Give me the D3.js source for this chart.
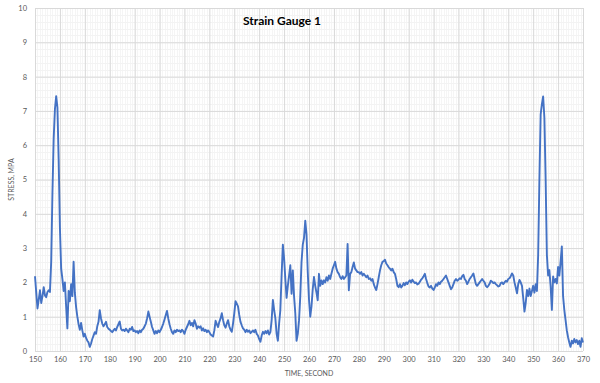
<!DOCTYPE html>
<html>
<head>
<meta charset="utf-8">
<script src="https://cdn.jsdelivr.net/npm/d3@7"></script>
<style>
  html, body { margin: 0; padding: 0; background: #fff; }
  svg { display: block; }
</style>
</head>
<body>
<svg id="chart" width="600" height="383"></svg>
<script>
// ---- Data ----
const chartTitle = "Strain Gauge 1";
const xAxisTitle = "TIME, SECOND";
const yAxisTitle = "STRESS, MPA";
const xTicks = [150,160,170,180,190,200,210,220,230,240,250,260,270,280,290,300,310,320,330,340,350,360,370];
const yTicks = [0,1,2,3,4,5,6,7,8,9,10];
const startTime = 150;   // seconds
const sampleStep = 0.5;  // seconds between readings
// stress (MPa) every 0.5 s, one row per 10 s
const stress = [
  2.18,1.7,1.24,1.5,1.77,1.4,1.6,1.86,1.62,1.57,1.72,1.77,1.72,2.6,4.6,6.2,7.05,7.43,7.1,5.6,
  3.6,2.4,2.1,1.75,2.0,1.3,0.66,1.75,1.45,1.95,1.6,2.6,1.7,1.28,1.0,0.78,0.62,0.82,0.6,0.42,
  0.5,0.38,0.3,0.25,0.12,0.22,0.35,0.45,0.55,0.5,0.72,0.85,1.19,0.95,0.8,0.72,0.78,0.85,0.7,0.65,
  0.62,0.58,0.55,0.6,0.65,0.6,0.7,0.78,0.86,0.65,0.6,0.62,0.58,0.65,0.6,0.55,0.65,0.62,0.7,0.58,
  0.6,0.55,0.58,0.52,0.6,0.55,0.62,0.65,0.72,0.8,0.95,1.15,1.0,0.85,0.7,0.6,0.5,0.58,0.52,0.6,
  0.55,0.62,0.7,0.8,0.92,1.05,1.17,0.95,0.78,0.65,0.55,0.5,0.6,0.55,0.62,0.58,0.6,0.55,0.62,0.58,
  0.5,0.62,0.7,0.78,0.88,0.75,0.82,0.72,0.9,0.8,0.65,0.72,0.68,0.72,0.6,0.66,0.58,0.62,0.55,0.6,
  0.55,0.48,0.45,0.42,0.6,0.88,0.78,0.7,0.85,0.95,1.1,0.9,0.75,0.68,0.8,0.9,0.72,0.62,0.56,0.8,
  1.1,1.45,1.38,1.3,1.05,0.85,0.75,0.66,0.62,0.55,0.62,0.56,0.6,0.52,0.56,0.6,0.55,0.62,0.5,0.45,
  0.35,0.27,0.45,0.56,0.5,0.58,0.52,0.6,0.48,0.55,0.9,1.49,1.2,0.95,0.5,0.3,0.8,1.2,2.2,3.1,
  2.7,2.1,1.55,1.9,2.2,2.5,1.67,2.35,1.6,1.1,0.3,0.5,0.9,1.6,2.6,3.1,3.3,3.8,3.4,2.3,
  1.5,1.0,1.3,1.8,2.16,1.9,1.7,1.48,2.25,1.9,2.06,1.95,2.06,2.0,2.15,2.05,2.2,2.1,2.25,2.4,
  2.5,2.6,2.4,2.3,2.25,2.15,2.1,2.18,2.1,2.15,2.2,3.12,1.77,2.25,2.3,2.45,2.58,2.4,2.35,2.3,
  2.3,2.25,2.3,2.2,2.25,2.2,2.15,2.2,2.1,2.12,2.05,2.1,1.95,1.85,1.78,1.95,2.15,2.35,2.5,2.6,
  2.62,2.66,2.55,2.5,2.44,2.4,2.35,2.4,2.3,2.25,2.1,1.9,1.86,1.95,1.85,1.9,1.98,1.92,2.0,1.95,
  2.02,2.06,2.0,2.08,2.02,1.98,2.0,1.94,1.96,2.02,2.08,2.12,2.18,2.25,2.1,1.98,1.88,1.85,1.9,1.82,
  1.78,1.85,1.95,1.9,2.0,1.95,2.02,2.05,2.1,2.15,2.2,2.1,2.0,1.9,1.8,1.85,1.95,2.05,2.1,2.05,
  2.08,2.12,2.1,2.18,2.22,2.1,2.05,1.95,2.02,2.1,2.15,2.2,2.26,2.1,1.95,1.9,1.95,2.0,2.05,2.1,
  2.05,2.0,1.9,1.86,1.9,1.96,2.05,2.02,1.98,2.0,1.95,1.92,1.88,1.9,1.98,2.0,1.95,2.0,2.05,2.02,
  2.1,2.12,2.18,2.26,2.2,2.0,1.85,1.68,1.95,2.07,2.0,1.9,1.55,1.15,1.4,1.78,1.6,1.82,1.6,1.75,
  1.9,1.7,1.95,1.75,2.8,5.0,6.9,7.2,7.42,6.8,5.0,2.8,2.2,2.36,1.9,1.2,2.17,2.0,2.1,1.97,
  2.45,2.2,2.6,3.05,1.6,1.2,0.9,0.6,0.4,0.25,0.12,0.3,0.22,0.35,0.25,0.32,0.2,0.3,0.12,0.37,
  0.25
];

// ---- Layout ----
const margin = {left: 35, right: 17, top: 8, bottom: 32};
const W = 600, H = 383;
const svg = d3.select("#chart");

const x = d3.scaleLinear().domain([150, 370]).range([margin.left, W - margin.right]);
const y = d3.scaleLinear().domain([0, 10]).range([H - margin.bottom, margin.top]);

const data = stress.map((v, i) => ({t: startTime + i * sampleStep, v}));

// minor grid
const minorX = d3.range(150, 370.001, 1);
const minorY = d3.range(0, 10.001, 0.2);
svg.append("g").selectAll("line").data(minorX).join("line")
  .attr("x1", d => Math.round(x(d)) + 0.5).attr("x2", d => Math.round(x(d)) + 0.5)
  .attr("y1", y(0)).attr("y2", y(10))
  .attr("stroke", "#f5f5f5").attr("stroke-width", 1);
svg.append("g").selectAll("line").data(minorY).join("line")
  .attr("y1", d => Math.round(y(d)) + 0.5).attr("y2", d => Math.round(y(d)) + 0.5)
  .attr("x1", x(150)).attr("x2", x(370))
  .attr("stroke", "#f3f3f3").attr("stroke-width", 1);

// major grid via axes
svg.append("g")
  .attr("transform", `translate(0,${y(10)})`)
  .call(d3.axisBottom(x).tickValues(xTicks).tickSize(y(0) - y(10)).tickFormat(""))
  .call(g => g.select(".domain").remove())
  .call(g => g.selectAll("line").attr("stroke", "#d9d9d9"));
svg.append("g")
  .attr("transform", `translate(${x(150)},0)`)
  .call(d3.axisRight(y).tickValues(yTicks).tickSize(x(370) - x(150)).tickFormat(""))
  .call(g => g.select(".domain").remove())
  .call(g => g.selectAll("line").attr("stroke", "#d9d9d9"));

// tick labels
const xAxis = svg.append("g")
  .attr("transform", `translate(0,${y(0)})`)
  .call(d3.axisBottom(x).tickValues(xTicks).tickSize(0).tickPadding(6).tickFormat(d3.format("d")));
xAxis.select(".domain").remove();
xAxis.selectAll("text").attr("font-family", "Lato, 'Open Sans', sans-serif").attr("font-size", 7.5).attr("fill", "#595959");

const yAxis = svg.append("g")
  .attr("transform", `translate(${x(150)},0)`)
  .call(d3.axisLeft(y).tickValues(yTicks).tickSize(0).tickPadding(8).tickFormat(d3.format("d")));
yAxis.select(".domain").remove();
yAxis.selectAll("text").attr("font-family", "Lato, 'Open Sans', sans-serif").attr("font-size", 7.5).attr("fill", "#595959");

// line
const line = d3.line().x(d => x(d.t)).y(d => y(d.v));
svg.append("path").datum(data)
  .attr("d", line)
  .attr("fill", "none")
  .attr("stroke", "#4472c4")
  .attr("stroke-width", 1.9)
  .attr("stroke-linejoin", "round");

// titles
svg.append("text")
  .attr("x", 282).attr("y", 25)
  .attr("text-anchor", "middle")
  .attr("font-family", "Lato, 'Open Sans', sans-serif")
  .attr("font-weight", "bold").attr("font-size", 12)
  .attr("fill", "#000")
  .text(chartTitle);

svg.append("text")
  .attr("x", (x(150) + x(370)) / 2).attr("y", 376)
  .attr("text-anchor", "middle")
  .attr("font-family", "Lato, 'Open Sans', sans-serif")
  .attr("font-size", 7).attr("fill", "#595959")
  .text(xAxisTitle);

svg.append("text")
  .attr("transform", `translate(14,${(y(0) + y(10)) / 2}) rotate(-90)`)
  .attr("text-anchor", "middle")
  .attr("font-family", "Lato, 'Open Sans', sans-serif")
  .attr("font-size", 7).attr("fill", "#595959")
  .text(yAxisTitle);
</script>
</body>
</html>
